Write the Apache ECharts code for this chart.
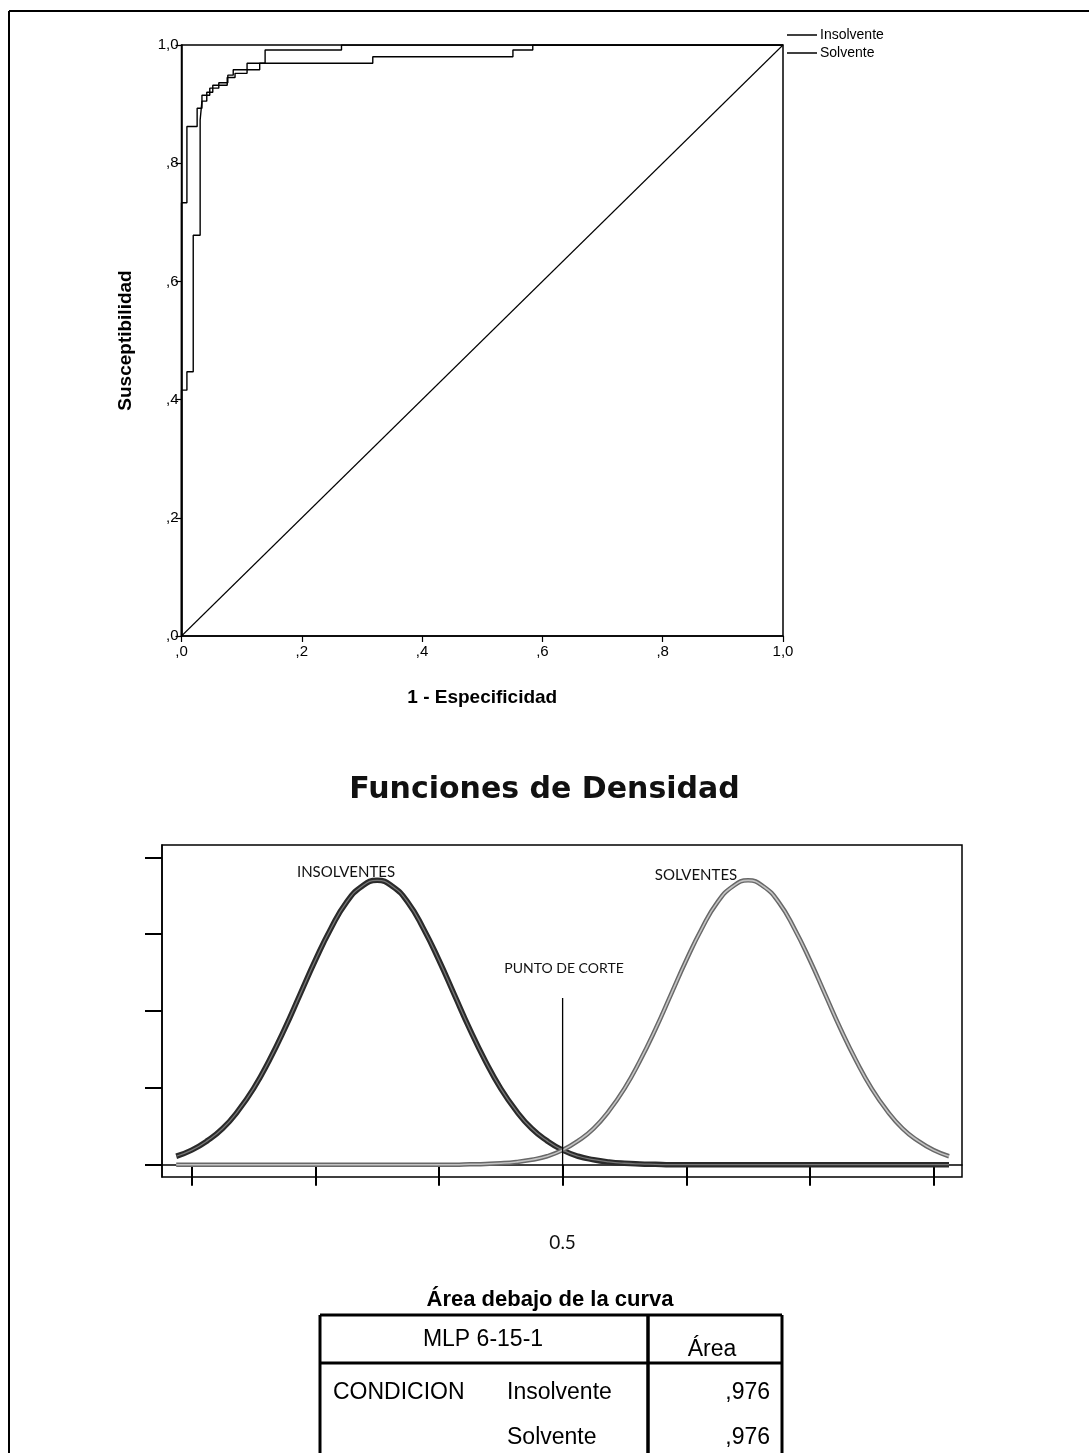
<!DOCTYPE html>
<html>
<head>
<meta charset="utf-8">
<script src="https://cdn.jsdelivr.net/npm/echarts@6/dist/echarts.min.js"></script>
<style>
  html, body { margin: 0; padding: 0; background: #fff; }
  #chart { width: 1089px; height: 1453px; }
</style>
</head>
<body>
<div id="chart"></div>
<script>
// ---- Curva COR: vértices escalonados (1 - especificidad, susceptibilidad) ----
const rocInsolvente = [[0,0],[0,0.733],[0.009,0.733],[0.009,0.862],[0.026,0.862],[0.026,0.893],[0.034,0.893],[0.034,0.915],[0.047,0.915],[0.047,0.927],[0.062,0.927],[0.062,0.936],[0.077,0.936],[0.077,0.949],[0.086,0.949],[0.086,0.958],[0.109,0.958],[0.109,0.969],[0.139,0.969],[0.139,0.9915],[0.266,0.9915],[0.266,1],[1,1]];
const rocSolvente = [[0,0],[0,0.416],[0.009,0.416],[0.009,0.447],[0.0195,0.447],[0.0195,0.678],[0.031,0.678],[0.031,0.873],[0.034,0.873],[0.034,0.905],[0.042,0.905],[0.042,0.920],[0.052,0.920],[0.052,0.932],[0.076,0.932],[0.076,0.945],[0.089,0.945],[0.089,0.952],[0.109,0.952],[0.109,0.958],[0.130,0.958],[0.130,0.969],[0.318,0.969],[0.318,0.980],[0.551,0.980],[0.551,0.9915],[0.584,0.9915],[0.584,1],[1,1]];
const rocDiagonal = [[0,0],[1,1]];
const rocNames = ['Insolvente', 'Solvente'];

// ---- Funciones de densidad ----
const densX = [0.1875,0.2,0.2125,0.225,0.2375,0.25,0.2625,0.275,0.2875,0.3,0.3125,0.325,0.3375,0.35,0.3625,0.375,0.3875,0.4,0.4125,0.425,0.4375,0.45,0.4625,0.475,0.4875,0.5,0.5125,0.525,0.5375,0.55,0.5625,0.575,0.5875,0.6,0.6125,0.625,0.6375,0.65,0.6625,0.675,0.6875,0.7,0.7125,0.725,0.7375,0.75,0.7625,0.775,0.7875,0.8,0.8125];
const densInsolventes = [0.11,0.19,0.31,0.47,0.70,0.99,1.35,1.76,2.21,2.66,3.07,3.41,3.62,3.70,3.62,3.41,3.07,2.66,2.21,1.76,1.35,0.99,0.70,0.47,0.31,0.19,0.11,0.065,0.036,0.019,0.010,0.005,0,0,0,0,0,0,0,0,0,0,0,0,0,0,0,0,0,0,0];
const densSolventes = [0,0,0,0,0,0,0,0,0,0,0,0,0,0,0,0,0,0,0,0.005,0.010,0.019,0.036,0.065,0.11,0.19,0.31,0.47,0.70,0.99,1.35,1.76,2.21,2.66,3.07,3.41,3.62,3.70,3.62,3.41,3.07,2.66,2.21,1.76,1.35,0.99,0.70,0.47,0.31,0.19,0.11];
const puntoCorte = 0.5;
const corteAltura = 2.17;
const densTicksX = [0.2,0.3,0.4,0.5,0.6,0.7,0.8];
const densTicksY = [0,1,2,3,4];
const densRangeX = [0.176, 0.823];
const densRangeY = [-0.16, 4.16];

// ---- Área debajo de la curva ----
const aucTitle = 'Área debajo de la curva';
const aucModel = 'MLP 6-15-1';
const aucHeader = 'Área';
const aucVariable = 'CONDICION';
const aucCategories = ['Insolvente', 'Solvente'];
const aucValues = [',976', ',976'];

const pair = (xs, ys) => xs.map((x, i) => [x, ys[i]]);
const spssNum = v => {
  const s = v.toFixed(1).replace('.', ',');
  return s.startsWith('0') ? s.slice(1) : s;
};

const FONT = "'Liberation Sans', Arial, sans-serif";
const chart = echarts.init(document.getElementById('chart'), null, { renderer: 'canvas' });

const tableLeft = 320, tableRight = 782, tableTop = 1315, headBottom = 1363, divider = 648;
const rowY = [1393, 1438];

const graphic = [
  // page frame
  { type: 'line', shape: { x1: 9, y1: 11, x2: 1089, y2: 11 }, style: { stroke: '#000', lineWidth: 2 } },
  { type: 'line', shape: { x1: 9, y1: 11, x2: 9, y2: 1453 }, style: { stroke: '#000', lineWidth: 2 } },
  // density annotations
  { type: 'text', style: { text: 'INSOLVENTES', x: 346, y: 872, fontFamily: 'Lato', fontSize: 15, fill: '#111', textAlign: 'center', textVerticalAlign: 'middle' } },
  { type: 'text', style: { text: 'SOLVENTES', x: 696, y: 875, fontFamily: 'Lato', fontSize: 15, fill: '#111', textAlign: 'center', textVerticalAlign: 'middle' } },
  { type: 'text', style: { text: 'PUNTO DE CORTE', x: 564, y: 968, fontFamily: 'Lato', fontSize: 14, fill: '#111', textAlign: 'center', textVerticalAlign: 'middle' } },
  // table
  { type: 'text', style: { text: aucTitle, x: 550, y: 1300, fontFamily: FONT, fontWeight: 'bold', fontSize: 22, fill: '#000', textAlign: 'center', textVerticalAlign: 'middle' } },
  { type: 'line', shape: { x1: tableLeft, y1: tableTop, x2: tableRight, y2: tableTop }, style: { stroke: '#000', lineWidth: 3 } },
  { type: 'line', shape: { x1: tableLeft, y1: tableTop, x2: tableLeft, y2: 1460 }, style: { stroke: '#000', lineWidth: 3 } },
  { type: 'line', shape: { x1: tableRight, y1: tableTop, x2: tableRight, y2: 1460 }, style: { stroke: '#000', lineWidth: 3 } },
  { type: 'line', shape: { x1: divider, y1: tableTop, x2: divider, y2: 1460 }, style: { stroke: '#000', lineWidth: 3.5 } },
  { type: 'line', shape: { x1: tableLeft, y1: headBottom, x2: tableRight, y2: headBottom }, style: { stroke: '#000', lineWidth: 3 } },
  { type: 'text', style: { text: aucModel, x: 483, y: 1340, fontFamily: FONT, fontSize: 23, fill: '#000', textAlign: 'center', textVerticalAlign: 'middle' } },
  { type: 'text', style: { text: aucHeader, x: 712, y: 1350, fontFamily: FONT, fontSize: 23, fill: '#000', textAlign: 'center', textVerticalAlign: 'middle' } },
  { type: 'text', style: { text: aucVariable, x: 333, y: rowY[0], fontFamily: FONT, fontSize: 23, fill: '#000', textAlign: 'left', textVerticalAlign: 'middle' } }
];
aucCategories.forEach((c, i) => {
  graphic.push({ type: 'text', style: { text: c, x: 507, y: rowY[i], fontFamily: FONT, fontSize: 23, fill: '#000', textAlign: 'left', textVerticalAlign: 'middle' } });
  graphic.push({ type: 'text', style: { text: aucValues[i], x: 770, y: rowY[i], fontFamily: FONT, fontSize: 23, fill: '#000', textAlign: 'right', textVerticalAlign: 'middle' } });
});

const densLine = (name, values, color, width, z) => ({
  name, type: 'line', xAxisIndex: 1, yAxisIndex: 1, data: pair(densX, values),
  smooth: 0.5, showSymbol: false, symbol: 'none', lineStyle: { color, width }, z
});

const option = {
  animation: false,
  backgroundColor: '#fff',
  title: {
    text: 'Funciones de Densidad',
    left: 'center',
    top: 770,
    textStyle: { fontFamily: "'DejaVu Sans', Verdana, sans-serif", fontWeight: 'bold', fontSize: 30, color: '#111' }
  },
  legend: {
    data: rocNames,
    orient: 'vertical',
    left: 787,
    top: 28,
    padding: 0,
    itemGap: 4,
    itemWidth: 30,
    itemHeight: 1.5,
    icon: 'rect',
    selectedMode: false,
    textStyle: { fontFamily: FONT, fontSize: 14, lineHeight: 14, color: '#000', padding: [0, 0, 0, -2] }
  },
  grid: [
    { left: 181.5, top: 45, width: 601.5, height: 591, show: true, borderColor: '#000', borderWidth: 1.5, containLabel: false },
    { left: 162, top: 845, width: 800, height: 332, show: true, borderColor: '#000', borderWidth: 1.5, containLabel: false }
  ],
  xAxis: [
    {
      gridIndex: 0, type: 'value', min: 0, max: 1, interval: 0.2,
      name: '1 - Especificidad', nameLocation: 'middle', nameGap: 52,
      nameTextStyle: { fontFamily: FONT, fontWeight: 'bold', fontSize: 19, color: '#000' },
      axisLine: { lineStyle: { color: '#000', width: 1.5 } },
      axisTick: { length: 6, lineStyle: { color: '#000', width: 1.2 } },
      axisLabel: { fontFamily: FONT, fontSize: 15, color: '#000', margin: 8, formatter: spssNum },
      splitLine: { show: false }
    },
    {
      gridIndex: 1, type: 'value', min: densRangeX[0], max: densRangeX[1],
      axisLine: { lineStyle: { color: '#000', width: 1.5 } },
      axisTick: { customValues: densTicksX, length: 21, lineStyle: { color: '#000', width: 2 } },
      axisLabel: { customValues: [puntoCorte], fontFamily: 'Lato', fontSize: 19, color: '#111', margin: 56, formatter: v => String(v) },
      splitLine: { show: false }
    }
  ],
  yAxis: [
    {
      gridIndex: 0, type: 'value', min: 0, max: 1, interval: 0.2,
      name: 'Susceptibilidad', nameLocation: 'middle', nameGap: 46, nameRotate: 90,
      nameTextStyle: { fontFamily: FONT, fontWeight: 'bold', fontSize: 19, color: '#000' },
      axisLine: { lineStyle: { color: '#000', width: 1.5 } },
      axisTick: { length: 6, lineStyle: { color: '#000', width: 1.2 } },
      axisLabel: { fontFamily: FONT, fontSize: 15, color: '#000', margin: 3, formatter: spssNum },
      splitLine: { show: false }
    },
    {
      gridIndex: 1, type: 'value', min: densRangeY[0], max: densRangeY[1],
      axisLine: { lineStyle: { color: '#000', width: 1.5 } },
      axisTick: { customValues: densTicksY, length: 17, lineStyle: { color: '#000', width: 2 } },
      axisLabel: { show: false },
      splitLine: { show: false }
    }
  ],
  series: [
    { name: 'Insolvente', type: 'line', xAxisIndex: 0, yAxisIndex: 0, data: rocInsolvente, showSymbol: false, symbol: 'none',
      lineStyle: { color: '#000', width: 1.4 }, itemStyle: { color: '#000' }, z: 3 },
    { name: 'Solvente', type: 'line', xAxisIndex: 0, yAxisIndex: 0, data: rocSolvente, showSymbol: false, symbol: 'none',
      lineStyle: { color: '#000', width: 1.4 }, itemStyle: { color: '#000' }, z: 3 },
    { name: 'Referencia', type: 'line', xAxisIndex: 0, yAxisIndex: 0, data: rocDiagonal, showSymbol: false, symbol: 'none',
      lineStyle: { color: '#000', width: 1.1 }, z: 2 },

    // densidad de insolventes: trazo grueso oscuro con núcleo gris
    densLine('INSOLVENTES', densInsolventes, '#2a2a2a', 5.5, 3),
    densLine('INSOLVENTES_core', densInsolventes, '#777', 1.3, 4),
    // densidad de solventes: trazo gris más claro
    densLine('SOLVENTES', densSolventes, '#686868', 4.5, 3),
    densLine('SOLVENTES_core', densSolventes, '#c4c4c4', 1.6, 4),
    // punto de corte
    { name: 'PUNTO DE CORTE', type: 'line', xAxisIndex: 1, yAxisIndex: 1, data: [[puntoCorte, densRangeY[0]], [puntoCorte, corteAltura]],
      showSymbol: false, symbol: 'none', lineStyle: { color: '#000', width: 1.3 }, z: 5 }
  ],
  graphic: graphic
};

chart.setOption(option);
</script>
</body>
</html>
